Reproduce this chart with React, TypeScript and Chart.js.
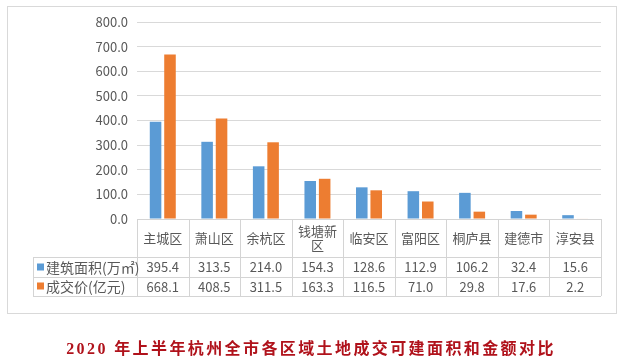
import React, { useEffect, useRef } from "react";
import { Chart, registerables } from "chart.js";

Chart.register(...registerables);

const categories = ["主城区", "萧山区", "余杭区", "钱塘新区", "临安区", "富阳区", "桐庐县", "建德市", "淳安县"];
const areaValues = [395.4, 313.5, 214.0, 154.3, 128.6, 112.9, 106.2, 32.4, 15.6];
const priceValues = [668.1, 408.5, 311.5, 163.3, 116.5, 71.0, 29.8, 17.6, 2.2];
const seriesNames = ["建筑面积(万㎡)", "成交价(亿元)"];
const seriesColors = ["#5b9bd5", "#ed7d31"];
const titleText = "2020 年上半年杭州全市各区域土地成交可建面积和金额对比";

const FONT = '"Noto Sans CJK SC", "Noto Sans", sans-serif';
const TEXT_COLOR = "#595959";
const LINE_COLOR = "#d4d4d4";

const tablePlugin = {
  id: "dataTable",
  afterDraw(chart: any) {
    const ctx = chart.ctx;
    const x = chart.scales.x;
    const area = chart.chartArea;
    const n = categories.length;
    const colW = (x.right - x.left) / n;
    const top = area.bottom;
    const row0 = top + 38;
    const row1 = row0 + 19.5;
    const row2 = row1 + 19.5;
    const legendLeft = 33;

    ctx.save();
    // outer border
    ctx.strokeStyle = "#d9d9d9";
    ctx.lineWidth = 1;
    ctx.strokeRect(7.5, 6.5, 609, 307);

    ctx.strokeStyle = LINE_COLOR;
    ctx.beginPath();
    ctx.moveTo(x.left, Math.round(top) + 0.5);
    ctx.lineTo(x.right, Math.round(top) + 0.5);
    for (const yy of [row0, row1, row2]) {
      ctx.moveTo(legendLeft, Math.round(yy) + 0.5);
      ctx.lineTo(x.right, Math.round(yy) + 0.5);
    }
    for (let i = 0; i <= n; i++) {
      const xx = Math.round(x.left + i * colW) + 0.5;
      ctx.moveTo(xx, top);
      ctx.lineTo(xx, row2);
    }
    ctx.moveTo(legendLeft + 0.5, row0);
    ctx.lineTo(legendLeft + 0.5, row2);
    ctx.stroke();

    ctx.fillStyle = TEXT_COLOR;
    ctx.textAlign = "center";
    ctx.textBaseline = "middle";
    ctx.font = "13px " + FONT;
    categories.forEach((c, i) => {
      const cx = x.getPixelForValue(i);
      const maxW = colW - 6;
      const lines: string[] = [];
      let cur = "";
      for (const ch of c) {
        if (ctx.measureText(cur + ch).width > maxW && cur) {
          lines.push(cur);
          cur = ch;
        } else cur += ch;
      }
      if (cur) lines.push(cur);
      const lh = 13.5;
      const cy = (top + row0) / 2;
      lines.forEach((l, k) => {
        ctx.fillText(l, cx, cy + (k - (lines.length - 1) / 2) * lh);
      });
    });

    const rows = [areaValues, priceValues];
    const rowCenters = [(row0 + row1) / 2, (row1 + row2) / 2];
    ctx.font = "13px " + FONT;
    rows.forEach((vals, r) => {
      vals.forEach((v, i) => {
        ctx.fillText(v.toFixed(1), x.getPixelForValue(i), rowCenters[r] + 0.5);
      });
      ctx.fillStyle = seriesColors[r];
      ctx.fillRect(legendLeft + 4, Math.round(rowCenters[r]) - 3.5, 7, 7);
      ctx.fillStyle = TEXT_COLOR;
      ctx.textAlign = "left";
      ctx.font = "14px " + FONT;
      ctx.fillText(seriesNames[r], legendLeft + 13, rowCenters[r] + 0.5);
      ctx.textAlign = "center";
      ctx.font = "13px " + FONT;
    });
    ctx.restore();
  },
};

export default function App() {
  const canvasRef = useRef<HTMLCanvasElement | null>(null);

  useEffect(() => {
    const canvas = canvasRef.current;
    if (!canvas) return;
    const chart = new Chart(canvas, {
      type: "bar",
      data: {
        labels: categories,
        datasets: [
          { label: seriesNames[0], data: areaValues, backgroundColor: seriesColors[0] },
          { label: seriesNames[1], data: priceValues, backgroundColor: seriesColors[1] },
        ],
      },
      options: {
        responsive: false,
        animation: false,
        devicePixelRatio: 1,
        layout: { padding: { left: 0, right: 21, top: 22, bottom: 144 } },
        datasets: { bar: { categoryPercentage: 0.56, barPercentage: 0.8 } },
        plugins: { legend: { display: false }, tooltip: { enabled: false }, title: { display: false } },
        scales: {
          x: { display: false },
          y: {
            min: 0,
            max: 800,
            ticks: {
              stepSize: 100,
              color: TEXT_COLOR,
              font: { size: 13, family: FONT },
              padding: 9,
              callback: (v: any) => Number(v).toFixed(1),
            },
            grid: { color: "#d9d9d9", drawTicks: false },
            border: { display: false },
            afterFit: (scale: any) => {
              scale.width = 137;
            },
          },
        },
      },
      plugins: [tablePlugin],
    });
    return () => chart.destroy();
  }, []);

  return (
    <div style={{ position: "absolute", left: 0, top: 0, width: 622, height: 363, background: "#fff" }}>
      <canvas ref={canvasRef} width={622} height={363} style={{ position: "absolute", left: 0, top: 0 }} />
      <div
        style={{
          position: "absolute",
          left: 0,
          top: 338,
          width: 622,
          textAlign: "center",
          fontFamily: '"Liberation Serif", "Noto Sans CJK SC", serif',
          fontWeight: "bold",
          fontSize: 16,
          lineHeight: "22px",
          letterSpacing: "2.4px",
          color: "#b0121b",
          whiteSpace: "nowrap",
        }}
      >
        {titleText}
      </div>
    </div>
  );
}
